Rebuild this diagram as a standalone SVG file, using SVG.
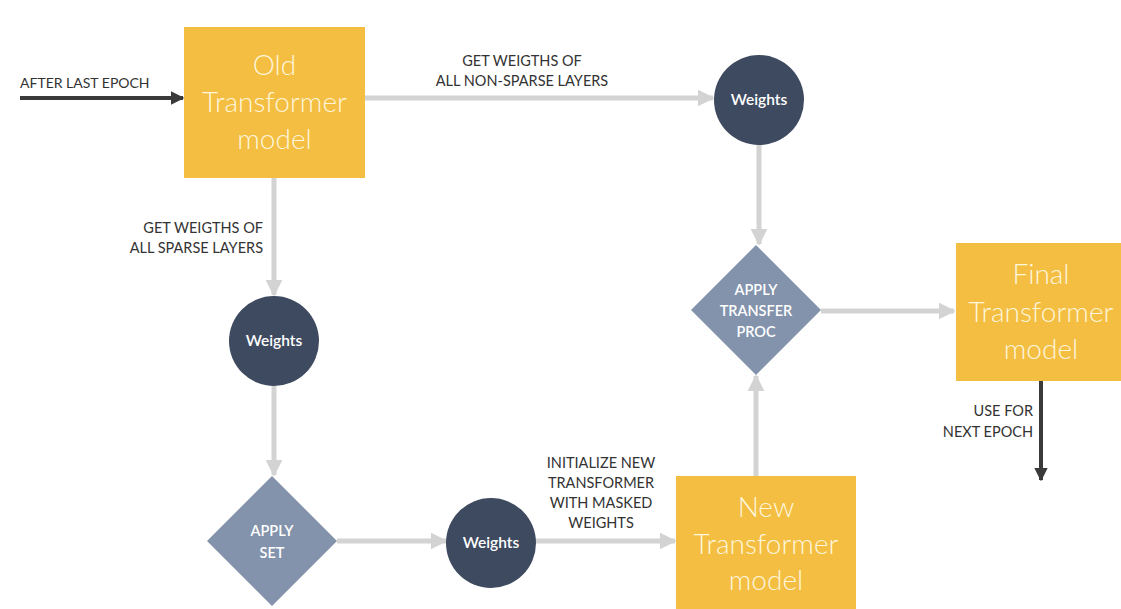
<svg xmlns="http://www.w3.org/2000/svg" width="1121" height="609" viewBox="0 0 1121 609">
<style>
.box{fill:#F3BE42}
.circ{fill:#3E4A5F}
.dia{fill:#8393AC}
.bt{font-family:Lato,"Open Sans",sans-serif;font-size:28px;font-weight:300;fill:#FFF6DC;text-anchor:middle}
.ct{font-family:Lato,"Open Sans",sans-serif;font-size:15.5px;font-weight:600;fill:#FFFFFF;text-anchor:middle}
.dt{font-family:Lato,"Open Sans",sans-serif;font-size:14.5px;font-weight:600;fill:#FFFFFF;text-anchor:middle}
.lb{font-family:Lato,"Open Sans",sans-serif;font-size:14.5px;fill:#333333}
.g{stroke:#D3D3D3;stroke-width:5;fill:none}
.k{stroke:#3A3A3A;stroke-width:4;fill:none}
</style>
<defs>
<marker id="ag" viewBox="0 0 10 10" refX="9" refY="5" markerWidth="3.4" markerHeight="3.4" orient="auto" markerUnits="strokeWidth"><path d="M0,0 L10,5 L0,10 z" fill="#D3D3D3"/></marker>
<marker id="ak" viewBox="0 0 10 10" refX="9" refY="5" markerWidth="3.4" markerHeight="3.4" orient="auto" markerUnits="strokeWidth"><path d="M0,0 L10,5 L0,10 z" fill="#3A3A3A"/></marker>
</defs>
<rect width="1121" height="609" fill="#ffffff"/>
<g id="connectors">
<line class="k" x1="20" y1="98" x2="183" y2="98" marker-end="url(#ak)"/>
<line class="g" x1="365" y1="98" x2="713" y2="98" marker-end="url(#ag)"/>
<line class="g" x1="759" y1="145" x2="759" y2="244" marker-end="url(#ag)"/>
<line class="g" x1="821" y1="311" x2="954" y2="311" marker-end="url(#ag)"/>
<line class="k" x1="1041" y1="381" x2="1041" y2="480" marker-end="url(#ak)"/>
<line class="g" x1="274" y1="178" x2="274" y2="295" marker-end="url(#ag)"/>
<line class="g" x1="274" y1="386" x2="274" y2="475" marker-end="url(#ag)"/>
<line class="g" x1="337" y1="541" x2="446" y2="541" marker-end="url(#ag)"/>
<line class="g" x1="536" y1="541" x2="675" y2="541" marker-end="url(#ag)"/>
<line class="g" x1="756" y1="476" x2="756" y2="376" marker-end="url(#ag)"/>
<text class="lb" x="20" y="88" style="font-size:14px">AFTER LAST EPOCH</text>
<text class="lb" x="522" y="66" text-anchor="middle">GET WEIGTHS OF</text>
<text class="lb" x="522" y="86" text-anchor="middle">ALL NON-SPARSE LAYERS</text>
<text class="lb" x="263" y="233" text-anchor="end">GET WEIGTHS OF</text>
<text class="lb" x="263" y="253" text-anchor="end">ALL SPARSE LAYERS</text>
<text class="lb" x="1033" y="416" text-anchor="end">USE FOR</text>
<text class="lb" x="1033" y="437" text-anchor="end">NEXT EPOCH</text>
<text class="lb" x="601" y="468" text-anchor="middle">INITIALIZE NEW</text>
<text class="lb" x="601" y="488" text-anchor="middle">TRANSFORMER</text>
<text class="lb" x="601" y="508" text-anchor="middle">WITH MASKED</text>
<text class="lb" x="601" y="528" text-anchor="middle">WEIGHTS</text>
</g>
<g id="old-model">
<rect class="box" x="184" y="27" width="181" height="151"/>
<text class="bt" x="274.5" y="75">Old</text>
<text class="bt" x="274.5" y="112">Transformer</text>
<text class="bt" x="274.5" y="149">model</text>
</g>
<g id="weights-top">
<circle class="circ" cx="759" cy="100" r="45"/>
<text class="ct" x="759" y="105">Weights</text>
</g>
<g id="apply-transfer">
<polygon class="dia" points="756,245 821,310 756,375 691,310"/>
<text class="dt" x="756" y="295">APPLY</text>
<text class="dt" x="756" y="316">TRANSFER</text>
<text class="dt" x="756" y="337">PROC</text>
</g>
<g id="final-model">
<rect class="box" x="956" y="243" width="165" height="138"/>
<text class="bt" x="1041" y="284">Final</text>
<text class="bt" x="1041" y="322">Transformer</text>
<text class="bt" x="1041" y="359">model</text>
</g>
<g id="weights-left">
<circle class="circ" cx="274" cy="341" r="45"/>
<text class="ct" x="274" y="346">Weights</text>
</g>
<g id="apply-set">
<polygon class="dia" points="272,476 337,541 272,606 207,541"/>
<text class="dt" x="272" y="536">APPLY</text>
<text class="dt" x="272" y="558">SET</text>
</g>
<g id="weights-bottom">
<circle class="circ" cx="491" cy="543" r="45"/>
<text class="ct" x="491" y="548">Weights</text>
</g>
<g id="new-model">
<rect class="box" x="676" y="476" width="180" height="140"/>
<text class="bt" x="766" y="517">New</text>
<text class="bt" x="766" y="554">Transformer</text>
<text class="bt" x="766" y="590">model</text>
</g>
</svg>
